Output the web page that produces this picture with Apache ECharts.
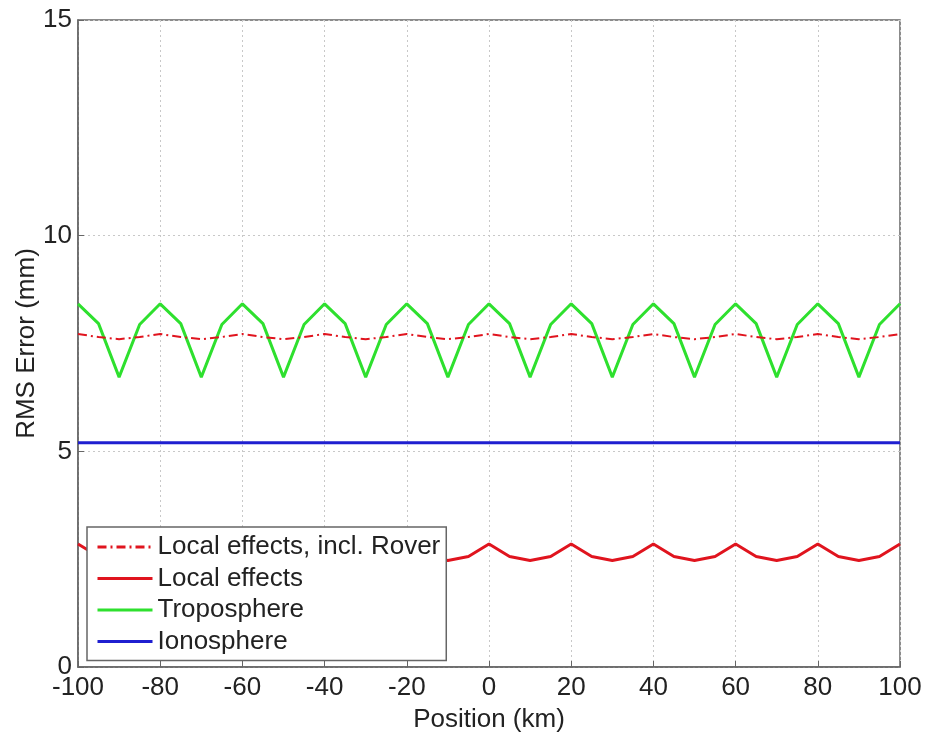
<!DOCTYPE html>
<html><head><meta charset="utf-8">
<script src="https://cdn.jsdelivr.net/npm/echarts@6/dist/echarts.min.js"></script>
<style>html,body{margin:0;padding:0;background:#fff}#c{width:926px;height:733px}</style>
</head><body><div id="c"></div>
<script>
const positions = [-100,-95,-90,-85,-80,-75,-70,-65,-60,-55,-50,-45,-40,-35,-30,-25,-20,-15,-10,-5,0,5,10,15,20,25,30,35,40,45,50,55,60,65,70,75,80,85,90,95,100];
const localRover = [7.72,7.65,7.6,7.65,7.72,7.65,7.6,7.65,7.72,7.65,7.6,7.65,7.72,7.65,7.6,7.65,7.72,7.65,7.6,7.65,7.72,7.65,7.6,7.65,7.72,7.65,7.6,7.65,7.72,7.65,7.6,7.65,7.72,7.65,7.6,7.65,7.72,7.65,7.6,7.65,7.72];
const localEff = [2.85,2.56,2.47,2.56,2.85,2.56,2.47,2.56,2.85,2.56,2.47,2.56,2.85,2.56,2.47,2.56,2.85,2.56,2.47,2.56,2.85,2.56,2.47,2.56,2.85,2.56,2.47,2.56,2.85,2.56,2.47,2.56,2.85,2.56,2.47,2.56,2.85,2.56,2.47,2.56,2.85];
const tropo = [8.42,7.96,6.72,7.94,8.42,7.96,6.72,7.94,8.42,7.96,6.72,7.94,8.42,7.96,6.72,7.94,8.42,7.96,6.72,7.94,8.42,7.96,6.72,7.94,8.42,7.96,6.72,7.94,8.42,7.96,6.72,7.94,8.42,7.96,6.72,7.94,8.42,7.96,6.72,7.94,8.42];
const iono = [5.2,5.2,5.2,5.2,5.2,5.2,5.2,5.2,5.2,5.2,5.2,5.2,5.2,5.2,5.2,5.2,5.2,5.2,5.2,5.2,5.2,5.2,5.2,5.2,5.2,5.2,5.2,5.2,5.2,5.2,5.2,5.2,5.2,5.2,5.2,5.2,5.2,5.2,5.2,5.2,5.2];
const seriesNames = ['Local effects, incl. Rover','Local effects','Troposphere','Ionosphere'];
const pair = arr => positions.map((p,i)=>[p,arr[i]]);
const FONT = 'Liberation Sans';
const chart = echarts.init(document.getElementById('c'));
chart.setOption({
  animation:false,
  textStyle:{fontFamily:FONT},
  grid:{left:78,right:26,top:20,bottom:66,outerBoundsMode:'none',containLabel:false,show:true,borderColor:'#666',borderWidth:1.5,backgroundColor:'#fff'},
  legend:{
    orient:'vertical',left:87,top:527,z:20,
    data:[seriesNames[0],seriesNames[1],seriesNames[2],seriesNames[3]],
    backgroundColor:'#fff',borderColor:'#666',borderWidth:1.5,borderRadius:0,
    padding:[7,6,6,9],itemWidth:55,itemHeight:10,itemGap:5.5,
    itemStyle:{opacity:0},
    lineStyle:{width:3},
    textStyle:{fontFamily:FONT,fontSize:26,color:'#222',padding:[0,0,0,0]}
  },
  xAxis:{type:'value',min:-100,max:100,interval:20,
    name:'Position (km)',nameLocation:'middle',nameGap:40,nameMoveOverlap:false,
    nameTextStyle:{fontFamily:FONT,fontSize:26,color:'#222'},
    axisLine:{show:true,onZero:false,lineStyle:{color:'#666',width:1.5}},
    axisTick:{show:true,inside:true,length:6,lineStyle:{color:'#666'}},
    axisLabel:{fontFamily:FONT,fontSize:26,color:'#222',margin:8},
    splitLine:{show:true,lineStyle:{color:'#c8c8c8',type:[2,3],width:1}}
  },
  yAxis:{type:'value',min:0,max:15,interval:5,
    name:'RMS Error (mm)',nameLocation:'middle',nameGap:38,nameMoveOverlap:false,
    nameTextStyle:{fontFamily:FONT,fontSize:26,color:'#222'},
    axisLine:{show:true,onZero:false,lineStyle:{color:'#666',width:1.5}},
    axisTick:{show:true,inside:true,length:6,lineStyle:{color:'#666'}},
    axisLabel:{fontFamily:FONT,fontSize:26,color:'#222',margin:6},
    splitLine:{show:true,lineStyle:{color:'#c8c8c8',type:[2,3],width:1}}
  },
  series:[
    {name:seriesNames[3],type:'line',data:pair(iono),symbol:'none',lineStyle:{color:'#1f1fd0',width:3},itemStyle:{color:'#1f1fd0'}},
    {name:seriesNames[2],type:'line',data:pair(tropo),symbol:'none',lineStyle:{color:'#2ee02e',width:3},itemStyle:{color:'#2ee02e'}},
    {name:seriesNames[1],type:'line',data:pair(localEff),symbol:'none',lineStyle:{color:'#e0141e',width:3},itemStyle:{color:'#e0141e'}},
    {name:seriesNames[0],type:'line',data:pair(localRover),symbol:'none',lineStyle:{color:'#e0141e',width:2,type:[9,4,2,4]},itemStyle:{color:'#e0141e'}}
  ]
});
</script></body></html>
